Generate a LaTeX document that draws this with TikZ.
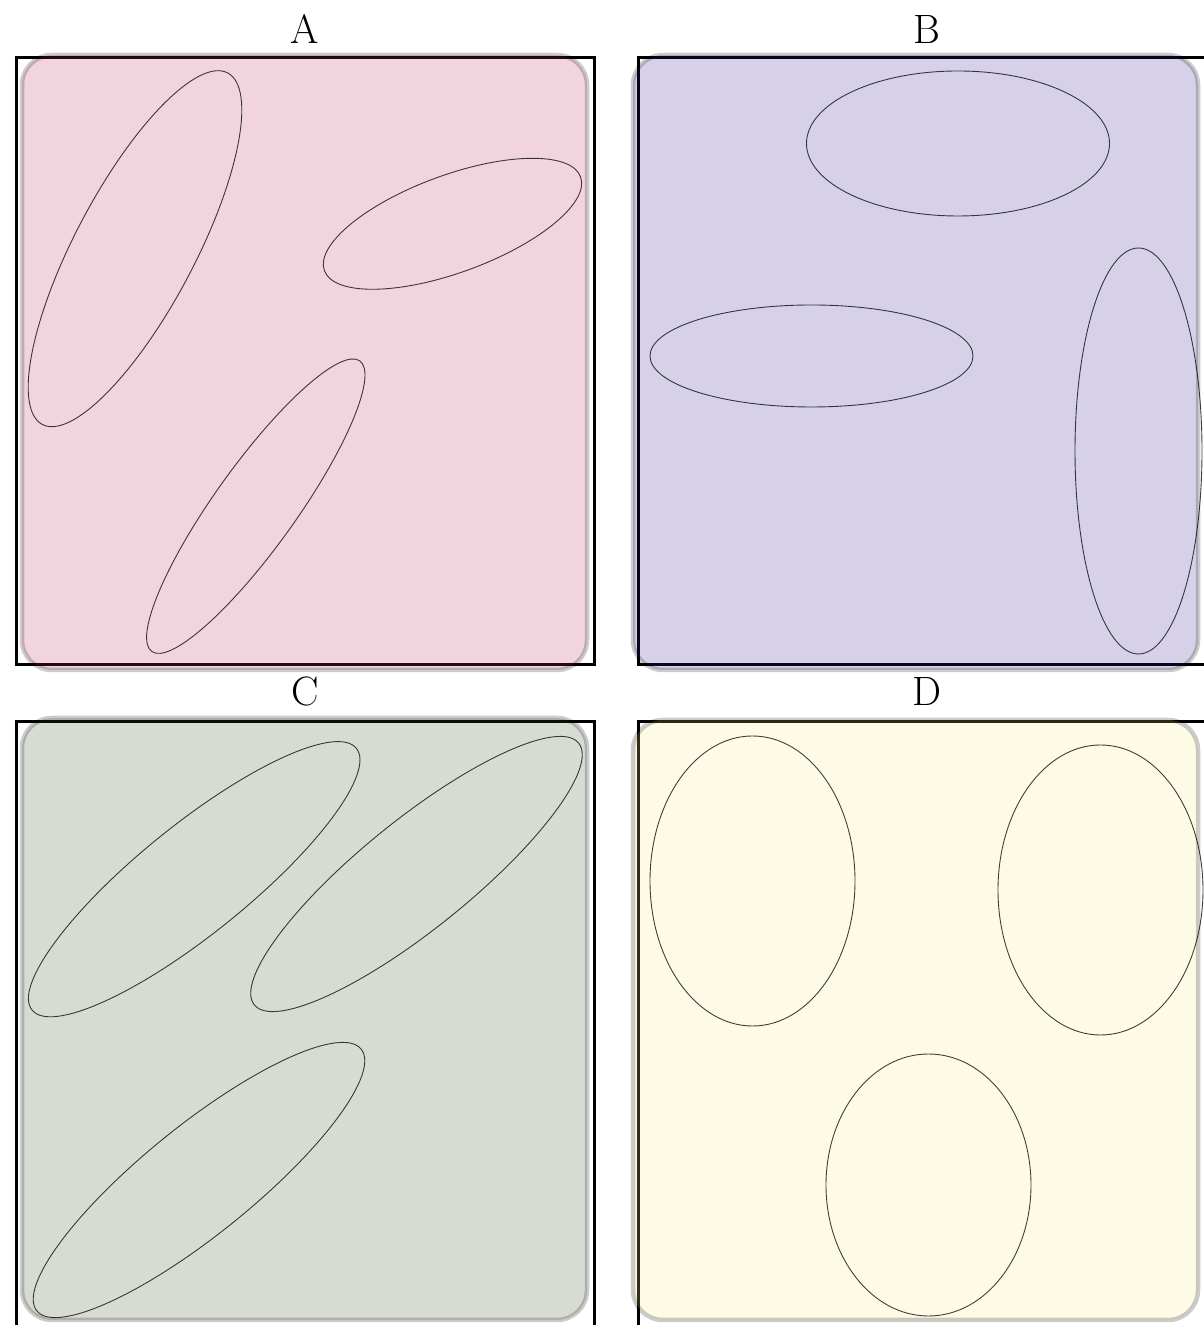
\documentclass[tikz,border=0pt]{standalone}
\usetikzlibrary{calc}
\definecolor{fillA}{RGB}{185,40,90}
\definecolor{fillB}{RGB}{50,25,140}
\definecolor{fillC}{RGB}{55,80,35}
\definecolor{fillD}{RGB}{245,235,130}
\tikzset{
  frameline/.style={draw=black, line width=3pt},
  panelbox/.style={draw=black, line width=4.5pt, rounded corners=30pt, opacity=0.2},
  blob/.style={draw=black, line width=0.9pt, draw opacity=0.75},
  paneltitle/.style={font=\fontsize{41}{48}\selectfont, anchor=base, inner sep=0pt}
}
\begin{document}
\begin{tikzpicture}[x=1pt,y=1pt]
\useasboundingbox (0,0) rectangle (1203,1325);
% frames
\draw[frameline] (16,660) rectangle (594,1267);
\draw[frameline] (638,660) rectangle (1216,1267);
\draw[frameline] (16,-10) rectangle (594,603);
\draw[frameline] (638,-10) rectangle (1216,603);
% panels
\path[panelbox, fill=fillA] (22,655) rectangle (587,1270);
\path[panelbox, fill=fillB] (633,655) rectangle (1198,1270);
\path[panelbox, fill=fillC] (22,5) rectangle (587,607);
\path[panelbox, fill=fillD] (633,5) rectangle (1198,605);
% titles
\node[paneltitle] (tA) at (305,1281) {A};
\node[paneltitle] (tB) at (927,1281) {B};
\node[paneltitle] (tC) at (305,619) {C};
\node[paneltitle] (tD) at (927,619) {D};
% panel A
\draw[blob, rotate around={62.2:(135,1076.3)}] (135,1076.3) ellipse [x radius=198.7, y radius=60];
\draw[blob, rotate around={20.1:(452.5,1101.2)}] (452.5,1101.2) ellipse [x radius=136.4, y radius=48.7];
\draw[blob, rotate around={54.4:(255.8,818.8)}] (255.8,818.8) ellipse [x radius=178.7, y radius=40.8];
% panel B
\draw[blob] (958,1181.5) ellipse [x radius=151.5, y radius=72.5];
\draw[blob] (811.5,969) ellipse [x radius=161.5, y radius=51];
\draw[blob] (1138.5,874) ellipse [x radius=63.5, y radius=203];
% panel C
\draw[blob, rotate around={38.9:(194.2,445.8)}] (194.2,445.8) ellipse [x radius=208.4, y radius=54.5];
\draw[blob, rotate around={38.9:(416.5,451)}] (416.5,451) ellipse [x radius=208.4, y radius=54.5];
\draw[blob, rotate around={38.9:(199,145)}] (199,145) ellipse [x radius=208.4, y radius=54.5];
% panel D
\draw[blob] (752.5,444) ellipse [x radius=102.5, y radius=145];
\draw[blob] (1100.5,435) ellipse [x radius=102.5, y radius=145];
\draw[blob] (928.5,140) ellipse [x radius=102.5, y radius=131];
\end{tikzpicture}
\end{document}
